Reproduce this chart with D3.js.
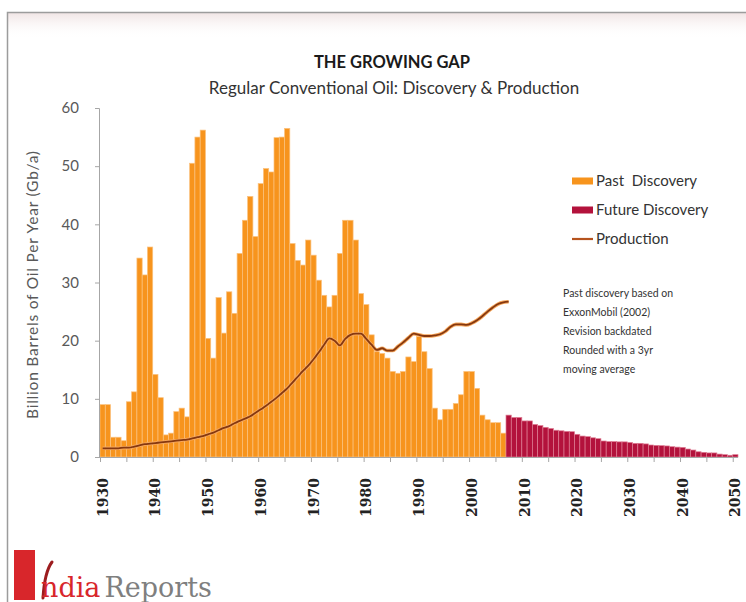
<!DOCTYPE html>
<html>
<head>
<meta charset="utf-8">
<script src="https://cdn.jsdelivr.net/npm/d3@7"></script>
<style>
  html, body { margin: 0; padding: 0; background: #fff; }
  svg { display: block; }
</style>
</head>
<body>
<svg id="chart" width="746" height="602"></svg>
<script>
// ---- Data -------------------------------------------------------------
const firstYear = 1930;
const lastYear = 2050;
const years = d3.range(firstYear, lastYear + 1);

// Past discovery, Gb/a, 1930–2006
const pastDiscovery = [
  9.0, 9.0, 3.4, 3.4, 2.8, 9.5, 11.2, 34.2, 31.3, 36.1,
  14.2, 10.2, 3.8, 4.1, 7.8, 8.4, 6.9, 50.5, 55.0, 56.2,
  20.4, 17.0, 27.4, 21.3, 28.4, 24.7, 35.0, 40.7, 44.8, 37.9,
  47.0, 49.6, 49.0, 54.9, 55.0, 56.5, 36.7, 33.8, 33.0, 37.3,
  34.7, 30.4, 27.8, 25.8, 27.8, 35.0, 40.7, 40.7, 37.3, 28.1,
  26.2, 21.0, 18.1, 17.8, 17.0, 14.7, 14.4, 14.7, 17.2, 16.4,
  20.7, 18.1, 15.2, 8.4, 6.4, 8.2, 8.2, 9.2, 10.7, 14.7,
  14.7, 11.8, 7.2, 6.4, 5.9, 5.9, 4.1
];

// Future discovery, Gb/a, 2007–2050
const futureDiscovery = [
  7.2, 6.8, 6.8, 6.2, 6.2, 5.6, 5.4, 5.1, 4.9, 4.6,
  4.5, 4.4, 4.35, 3.9, 3.6, 3.5, 3.3, 3.15, 2.75, 2.65,
  2.65, 2.6, 2.6, 2.5, 2.35, 2.35, 2.25, 2.06, 2.0, 1.95,
  1.9, 1.77, 1.7, 1.65, 1.37, 1.2, 0.9, 0.8, 0.7, 0.7,
  0.5, 0.4, 0.3, 0.4
];

// Production, Gb/a, 1930–2007
const production = [
  1.5, 1.5, 1.5, 1.5, 1.6, 1.6, 1.8, 2.0, 2.2, 2.3,
  2.4, 2.5, 2.6, 2.7, 2.8, 2.9, 3.0, 3.2, 3.4, 3.6,
  3.9, 4.2, 4.6, 5.0, 5.3, 5.8, 6.2, 6.6, 7.0, 7.6,
  8.2, 8.8, 9.5, 10.2, 11.0, 11.8, 12.8, 13.8, 14.8, 15.7,
  16.8, 18.0, 19.3, 20.4, 20.0, 19.2, 20.3, 21.0, 21.2, 21.2,
  20.3, 19.3, 18.4, 18.7, 18.3, 18.3, 19.0, 19.7, 20.5, 21.2,
  21.0, 20.8, 20.8, 20.9, 21.1, 21.6, 22.4, 22.8, 22.8, 22.7,
  23.0, 23.5, 24.2, 25.0, 25.7, 26.3, 26.6, 26.7
];

const yTicks = [0, 10, 20, 30, 40, 50, 60];
const labelYears = [1930, 1940, 1950, 1960, 1970, 1980, 1990, 2000, 2010, 2020, 2030, 2040, 2050];
const tickYears = [1930, 1935, 1940, 1945, 1950, 1955, 1960, 1965, 1970, 1975, 1980, 1985,
  1990, 1995, 2000, 2005, 2010, 2015, 2020, 2025, 2030, 2035, 2040, 2045, 2050];

const legendItems = ["Past  Discovery", "Future Discovery", "Production"];
const noteLines = [
  "Past discovery based on",
  "ExxonMobil (2002)",
  "Revision backdated",
  "Rounded with a 3yr",
  "moving average"
];

// ---- Setup ------------------------------------------------------------
const svg = d3.select("#chart");
const plot = { left: 100, right: 738, top: 108, bottom: 457 };
const SANS = "Lato, 'Open Sans', sans-serif";

const COL_PAST = "#F7941D";
const COL_PAST_EDGE = "#FBC27F";
const COL_FUTURE = "#B3123C";
const COL_FUTURE_EDGE = "#DE7C93";
const COL_LINE = "#86380F";
const COL_LINE_HALO = "#F6A75C";
const COL_AXIS = "#A6A6A6";
const COL_TEXT = "#595959";

const x = d3.scaleBand().domain(years).range([plot.left, plot.right]).padding(0);
const xEdge = d3.scaleLinear().domain([firstYear, lastYear + 1]).range([plot.left, plot.right]);
const y = d3.scaleLinear().domain([0, 60]).range([plot.bottom, plot.top]);

// Frame with a faint tinted band under the top edge
const defs = svg.append("defs");
const grad = defs.append("linearGradient").attr("id", "topShade")
  .attr("x1", 0).attr("y1", 0).attr("x2", 0).attr("y2", 1);
grad.append("stop").attr("offset", "0%").attr("stop-color", "#efe2e2").attr("stop-opacity", 0.9);
grad.append("stop").attr("offset", "100%").attr("stop-color", "#ffffff").attr("stop-opacity", 0);

svg.append("rect").attr("x", 0).attr("y", 0).attr("width", 746).attr("height", 602).attr("fill", "#fff");
svg.append("rect").attr("x", 8).attr("y", 13).attr("width", 738).attr("height", 26).attr("fill", "url(#topShade)");
svg.append("path")
  .attr("d", "M7.5,602 L7.5,12.5 L746,12.5")
  .attr("fill", "none").attr("stroke", "#9c9c9c").attr("stroke-width", 1.5);

// Titles
svg.append("text")
  .attr("x", 392).attr("y", 68)
  .attr("text-anchor", "middle")
  .attr("font-family", SANS)
  .attr("font-weight", "bold").attr("font-size", 16.5).attr("fill", "#1a1a1a")
  .text("THE GROWING GAP");

svg.append("text")
  .attr("x", 394).attr("y", 94)
  .attr("text-anchor", "middle")
  .attr("font-family", SANS)
  .attr("font-size", 17).attr("fill", "#333")
  .text("Regular Conventional Oil: Discovery & Production");

// ---- Bars -------------------------------------------------------------
const barData = pastDiscovery.map((v, i) => ({ year: firstYear + i, value: v, kind: "past" }))
  .concat(futureDiscovery.map((v, i) => ({ year: firstYear + pastDiscovery.length + i, value: v, kind: "future" })));

svg.append("g").selectAll("rect")
  .data(barData)
  .join("rect")
  .attr("x", d => x(d.year))
  .attr("width", x.bandwidth())
  .attr("y", d => y(d.value))
  .attr("height", d => y(0) - y(d.value))
  .attr("fill", d => d.kind === "past" ? COL_PAST : COL_FUTURE)
  .attr("stroke", d => d.kind === "past" ? COL_PAST_EDGE : COL_FUTURE_EDGE)
  .attr("stroke-width", 0.7);

// ---- Production line ---------------------------------------------------
const prodData = production.map((v, i) => ({ year: firstYear + i, value: v }));
const line = d3.line()
  .x(d => x(d.year) + x.bandwidth() / 2)
  .y(d => y(d.value))
  .curve(d3.curveMonotoneX);

svg.append("path").datum(prodData)
  .attr("d", line).attr("fill", "none")
  .attr("stroke", COL_LINE_HALO).attr("stroke-width", 3.6).attr("stroke-linejoin", "round");
svg.append("path").datum(prodData)
  .attr("d", line).attr("fill", "none")
  .attr("stroke", COL_LINE).attr("stroke-width", 1.8).attr("stroke-linejoin", "round");

// ---- Axes -------------------------------------------------------------
const yAxis = svg.append("g")
  .attr("transform", `translate(${plot.left - 1},0)`)
  .call(d3.axisLeft(y).tickValues(yTicks).tickSize(4).tickPadding(16));
yAxis.select(".domain").attr("stroke", COL_AXIS);
yAxis.selectAll(".tick line").attr("stroke", COL_AXIS);
yAxis.selectAll("text")
  .attr("font-family", SANS)
  .attr("font-size", 15).attr("fill", COL_TEXT);

const xTickAxis = svg.append("g")
  .attr("transform", `translate(0,${plot.bottom})`)
  .call(d3.axisBottom(xEdge).tickValues(tickYears).tickSize(5).tickSizeOuter(0).tickFormat(""));
xTickAxis.select(".domain").attr("stroke", COL_AXIS)
  .attr("d", `M${plot.left - 1},0.5H${plot.right}`);
xTickAxis.selectAll(".tick line").attr("stroke", COL_AXIS);

const xLabelAxis = svg.append("g")
  .attr("transform", `translate(0,${plot.bottom})`)
  .call(d3.axisBottom(x).tickValues(labelYears).tickSize(0));
xLabelAxis.select(".domain").remove();
xLabelAxis.selectAll("text")
  .attr("transform", "rotate(-90)")
  .attr("x", -21).attr("y", 0).attr("dy", "0.36em")
  .attr("text-anchor", "end")
  .attr("font-family", "'DejaVu Serif', serif")
  .attr("font-weight", "bold").attr("font-size", 14).attr("fill", "#222");

// Y axis title
svg.append("text")
  .attr("transform", "translate(38,285) rotate(-90)")
  .attr("text-anchor", "middle")
  .attr("font-family", SANS)
  .attr("font-size", 15.5).attr("fill", COL_TEXT)
  .attr("textLength", 268).attr("lengthAdjust", "spacing")
  .text("Billion Barrels of Oil Per Year (Gb/a)");

// ---- Legend -----------------------------------------------------------
const legend = svg.append("g").attr("transform", "translate(572,0)");
const legendY = [181, 210, 239];
legend.append("rect").attr("x", 0).attr("y", legendY[0] - 3.5).attr("width", 21).attr("height", 7).attr("fill", COL_PAST);
legend.append("rect").attr("x", 0).attr("y", legendY[1] - 3.5).attr("width", 21).attr("height", 7).attr("fill", COL_FUTURE);
legend.append("line").attr("x1", 0).attr("x2", 21).attr("y1", legendY[2]).attr("y2", legendY[2])
  .attr("stroke", "#B5531E").attr("stroke-width", 2.2);
legend.selectAll("text.leg")
  .data(legendItems)
  .join("text")
  .attr("class", "leg")
  .attr("x", 24).attr("y", (d, i) => legendY[i] + 5)
  .attr("font-family", SANS)
  .attr("font-size", 15).attr("fill", "#333")
  .style("white-space", "pre")
  .text(d => d);

// ---- Note -------------------------------------------------------------
svg.append("g").selectAll("text")
  .data(noteLines)
  .join("text")
  .attr("x", 563).attr("y", (d, i) => 297 + i * 19)
  .attr("font-family", SANS)
  .attr("font-size", 10.5).attr("fill", "#333")
  .text(d => d);

// ---- Logo -------------------------------------------------------------
const logo = svg.append("g");
logo.append("rect").attr("x", 14).attr("y", 550).attr("width", 21).attr("height", 50).attr("fill", "#D8262B");
logo.append("path")
  .attr("d", "M52,562 C46,570 44,582 43,598")
  .attr("fill", "none").attr("stroke", "#9C1C1F").attr("stroke-width", 3).attr("stroke-linecap", "round");
const logoText = logo.append("text")
  .attr("x", 41).attr("y", 597)
  .attr("font-family", "'DejaVu Serif', serif")
  .attr("font-size", 27);
logoText.append("tspan").attr("fill", "#D8262B").text("ndia");
logoText.append("tspan").attr("dx", 4).attr("fill", "#7f7f7f").text("Reports");
</script>
</body>
</html>
